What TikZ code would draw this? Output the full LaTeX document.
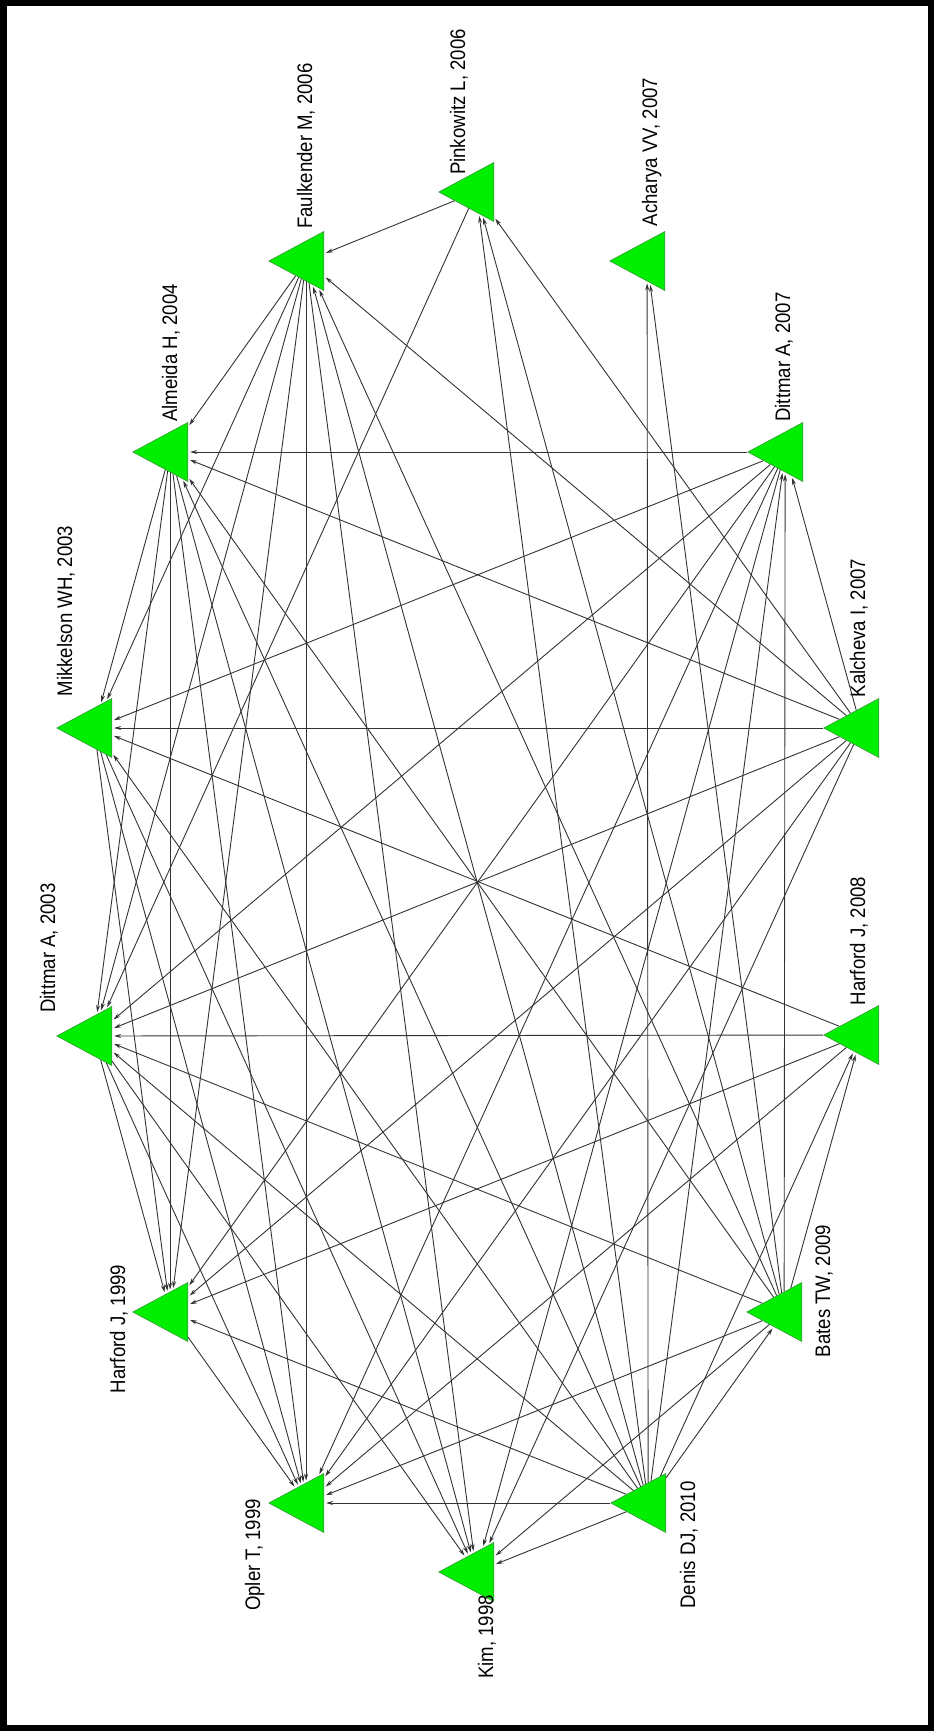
\documentclass[tikz,border=0pt]{standalone}
\usepackage{fontspec}
\setmainfont{Liberation Sans}
\usepackage{graphicx}
\usetikzlibrary{arrows.meta, shapes.geometric}
\definecolor{ctNode}{HTML}{00EE00}
\definecolor{ctBorder}{HTML}{3C9A3C}
\definecolor{ctEdge}{HTML}{333333}
\tikzset{
  paper/.style={
    isosceles triangle, shape border rotate=180, isosceles triangle stretches,
    minimum width=59pt, minimum height=55pt, inner sep=0pt,
    fill=ctNode, draw=ctBorder, line width=0.6pt, anchor=apex
  },
  tag/.style={rotate=90, anchor=base, inner sep=0pt, font=\fontsize{18.6}{20}\selectfont},
  cite/.style={-{Stealth[length=7pt,width=4pt]}, line width=0.9pt, draw=ctEdge, shorten >=2pt},
  frame/.style={line width=6.5pt, draw=black}
}
\newcommand{\tagtext}[1]{\scalebox{1}[1.13]{#1}}

\begin{document}
\begin{tikzpicture}[x=1pt, y=-1pt]
  \useasboundingbox (0,0) rectangle (934,1731);
  \draw[frame] (3.25,3.25) rectangle (930.75,1727.75);

  % papers, on an ellipse
  \node[paper] (P)  at (438,192)  {};
  \node[paper] (F)  at (268,261)  {};
  \node[paper] (A)  at (609,261)  {};
  \node[paper] (Al) at (132,452)  {};
  \node[paper] (D7) at (747,452)  {};
  \node[paper] (M)  at (56,728)   {};
  \node[paper] (Ka) at (823,728)  {};
  \node[paper] (D3) at (56,1036)  {};
  \node[paper] (H8) at (823,1035) {};
  \node[paper] (H9) at (132,1312) {};
  \node[paper] (B)  at (746,1312) {};
  \node[paper] (O)  at (268,1503) {};
  \node[paper] (De) at (610,1503) {};
  \node[paper] (Ki) at (438,1572) {};

  % labels
  \node[tag] (lP)  at (465,102)  {\tagtext{Pinkowitz L, 2006}};
  \node[tag] (lF)  at (312,146)  {\tagtext{Faulkender M, 2006}};
  \node[tag] (lA)  at (657,152)  {\tagtext{Acharya VV, 2007}};
  \node[tag] (lAl) at (177,353)  {\tagtext{Almeida H, 2004}};
  \node[tag] (lD7) at (790,357)  {\tagtext{Dittmar A, 2007}};
  \node[tag] (lM)  at (72,611)   {\tagtext{Mikkelson WH, 2003}};
  \node[tag] (lKa) at (865,628)  {\tagtext{Kalcheva I, 2007}};
  \node[tag] (lD3) at (55,948)   {\tagtext{Dittmar A, 2003}};
  \node[tag] (lH8) at (865,941)  {\tagtext{Harford J, 2008}};
  \node[tag] (lH9) at (125,1329) {\tagtext{Harford J, 1999}};
  \node[tag] (lB)  at (830,1291) {\tagtext{Bates TW, 2009}};
  \node[tag] (lO)  at (260,1555) {\tagtext{Opler T, 1999}};
  \node[tag] (lDe) at (695,1545) {\tagtext{Denis DJ, 2010}};
  \node[tag] (lKi) at (493,1637) {\tagtext{Kim, 1998}};

  % citations
  \path[cite] (P)  edge (F) edge (D3);
  \path[cite] (F)  edge (Al) edge (M) edge (D3) edge (H9) edge (O) edge (Ki);
  \path[cite] (Al) edge (M) edge (D3) edge (H9) edge (O) edge (Ki);
  \path[cite] (D7) edge (Al) edge (M) edge (D3) edge (H9) edge (O) edge (Ki);
  \path[cite] (M)  edge (H9) edge (O) edge (Ki);
  \path[cite] (Ka) edge (P) edge (F) edge (Al) edge (D7) edge (M) edge (D3) edge (H9) edge (O) edge (Ki);
  \path[cite] (D3) edge (H9) edge (O) edge (Ki);
  \path[cite] (H8) edge (M) edge (D3) edge (H9) edge (O);
  \path[cite] (H9) edge (O);
  \path[cite] (B)  edge (P) edge (A) edge (F) edge (Al) edge (D7) edge (H8) edge (D3) edge (O) edge (Ki);
  \path[cite] (De) edge (P) edge (A) edge (F) edge (Al) edge (D7) edge (M) edge (D3) edge (H9) edge (H8) edge (B) edge (O) edge (Ki);
\end{tikzpicture}
\end{document}
